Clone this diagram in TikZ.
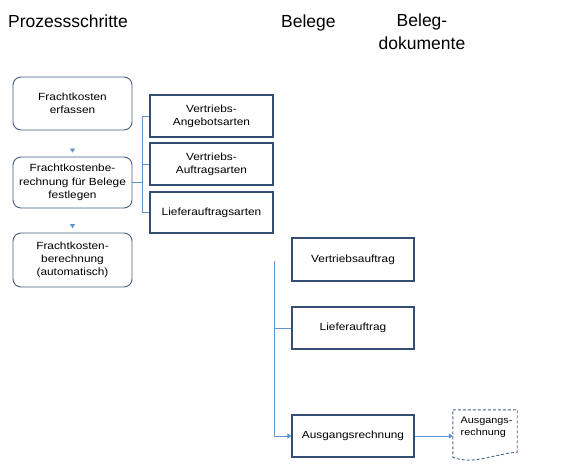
\documentclass[tikz,border=0pt]{standalone}
\usepackage{fontspec}
\setmainfont{Liberation Sans}
\newfontfamily\boxfont[FakeStretch=1.14]{Liberation Sans}
\usetikzlibrary{arrows.meta}
\definecolor{rbord}{RGB}{72,94,124}
\definecolor{sbord}{RGB}{50,78,114}
\definecolor{conncol}{RGB}{96,146,204}
\definecolor{docbord}{RGB}{70,100,140}
\tikzset{
  roundbox/.style={draw=rbord, line width=0.9pt, rounded corners=8pt, minimum width=119pt, align=center, inner sep=0pt, font=\boxfont\fontsize{10.4}{13.3}\selectfont},
  sqbox/.style={draw=sbord, line width=1.1pt, minimum width=123pt, align=center, inner sep=0pt, font=\boxfont\fontsize{10.4}{13.3}\selectfont},
  conn/.style={draw=conncol, line width=0.8pt},
  tip/.style={-{Triangle[length=4pt,width=5pt]}, conncol},
  header/.style={inner sep=0pt, font=\fontsize{17.5}{23}\selectfont},
}
\begin{document}
\begin{tikzpicture}[x=1pt,y=-1pt]
\useasboundingbox (0,0) rectangle (588,466);
% headers
\node[header, anchor=base west] (h1) at (8,27) {Prozessschritte};
\node[header, anchor=base west] (h2) at (281,27) {Belege};
\node[header, anchor=north, align=center] (h3) at (422,13.5) {Beleg-\\dokumente};
% process steps
\node[roundbox, minimum height=53pt] (b1) at (72.5,103.5) {Frachtkosten\\erfassen};
\node[roundbox, minimum height=51pt] (b2) at (72.5,182.5) {Frachtkostenbe-\\rechnung für Belege\\festlegen};
\node[roundbox, minimum height=54pt] (b3) at (72.5,260) {Frachtkosten-\\berechnung\\(automatisch)};
% document types
\node[sqbox, minimum height=42pt] (r1) at (211.5,116) {Vertriebs-\\Angebotsarten};
\node[sqbox, minimum height=42pt] (r2) at (211.5,164) {Vertriebs-\\Auftragsarten};
\node[sqbox, minimum height=41pt] (r3) at (211.5,212.5) {Lieferauftragsarten};
% documents
\node[sqbox, minimum width=122pt, minimum height=43pt] (v1) at (353,259.5) {Vertriebsauftrag};
\node[sqbox, minimum width=122pt, minimum height=42pt] (v2) at (353,328) {Lieferauftrag};
\node[sqbox, minimum width=122pt, minimum height=42pt] (v3) at (353,436) {Ausgangsrechnung};
% document output
\node[inner sep=0pt, minimum width=64pt, minimum height=47pt] (d) at (485,433.5) {};
\node[inner sep=0pt, anchor=north west, align=left, font=\boxfont\fontsize{9.5}{12}\selectfont] (dt) at (460.5,417) {Ausgangs-\\rechnung};
\draw[docbord, line width=0.9pt, dash pattern=on 3pt off 2pt]
  (d.north west) -- (d.north east) -- ([yshift=5pt]d.south east)
  .. controls ([xshift=-24pt,yshift=3pt]d.south east) and ([xshift=20pt,yshift=-8pt]d.south west) .. (d.south west) -- cycle;
% small arrows between process steps
\draw[conn, tip, shorten <=19pt, shorten >=4pt] (b1.south) -- (b2.north);
\draw[conn, tip, shorten <=19.5pt, shorten >=4.5pt] (b2.south) -- (b3.north);
% tree from b2 to r1..r3
\coordinate (j1) at (142,182.5);
\draw[conn] (b2.east) -- (j1);
\draw[conn] (r1.west) -| (j1);
\draw[conn] (r2.west) -| (j1);
\draw[conn] (r3.west) -| (j1);
% tree for documents
\coordinate (t) at (274,261);
\draw[conn, tip] (t) |- (v3.west);
\draw[conn] (v2.west) -- (v2.west -| t);
\draw[conn, tip] (v3.east) -- (v3.east -| d.west);
\end{tikzpicture}
\end{document}
